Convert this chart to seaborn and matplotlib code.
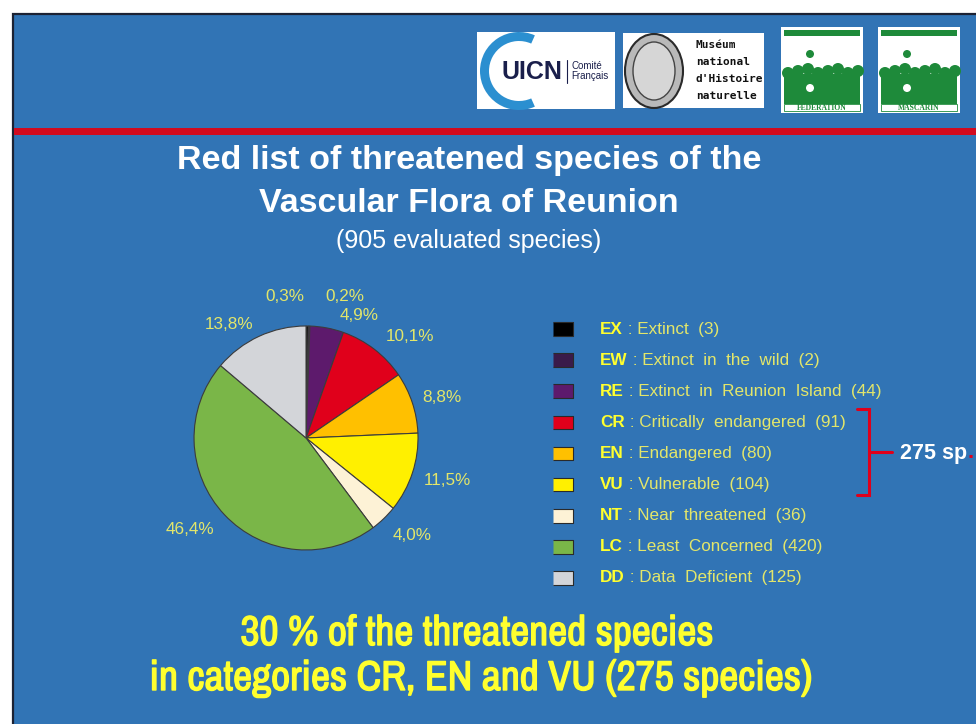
import numpy as np
import matplotlib.pyplot as plt
import matplotlib.patches as mpatches
import matplotlib.patheffects as pe
from matplotlib import font_manager
import seaborn as sns
import pandas as pd

# IUCN categories, Reunion vascular flora (905 evaluated species)
codes = ['EX', 'EW', 'RE', 'CR', 'EN', 'VU', 'NT', 'LC', 'DD']
names = ['Extinct', 'Extinct  in  the  wild', 'Extinct  in  Reunion  Island',
         'Critically  endangered', 'Endangered', 'Vulnerable',
         'Near  threatened', 'Least  Concerned', 'Data  Deficient']
counts = [3, 2, 44, 91, 80, 104, 36, 420, 125]
threatened = ['CR', 'EN', 'VU']

colors = ['#000000', '#3a1b4a', '#5d1a6c', '#e0001b', '#ffc000', '#fff000',
          '#fdf2d6', '#7ab648', '#d3d5d9']

BG = '#3174b5'
YEL = '#ffff2e'
LYEL = '#e3e66a'

sns.set_theme(style='white')
plt.rcParams['font.family'] = ['Liberation Sans', 'DejaVu Sans']

df = pd.DataFrame({'code': codes, 'name': names, 'n': counts})
total = df['n'].sum()
df['pct'] = 100 * df['n'] / total
df['label'] = df['pct'].map(lambda v: f'{v:.1f}%'.replace('.', ','))
df['row'] = np.arange(len(df))

fig = plt.figure(figsize=(9.76, 7.24), dpi=100)
fig.patch.set_facecolor('white')

# background / decoration layer in pixel coordinates
bg = fig.add_axes([0, 0, 1, 1])
bg.set_xlim(0, 976)
bg.set_ylim(724, 0)
bg.axis('off')
bg.add_patch(mpatches.Rectangle((13, 14), 980, 720, facecolor=BG, edgecolor='#1c2233', lw=1.6))
bg.add_patch(mpatches.Rectangle((14, 128), 970, 7, facecolor='#d10a1e', edgecolor='none'))

# logos (simplified)
bg.add_patch(mpatches.Rectangle((477, 32), 138, 77, facecolor='white', edgecolor='none'))
bg.add_patch(mpatches.Wedge((519, 71), 39, 66, 294, width=9, facecolor='#2b8fd0', edgecolor='none'))
bg.text(532, 72, 'UICN', fontsize=18, fontweight='bold', color='#1a1f4b', ha='center', va='center')
bg.plot([567, 567], [60, 83], color='#1a1f4b', lw=0.8)
bg.text(571, 71, 'Comité\nFrançais', fontsize=7, color='#1a1f4b', ha='left', va='center', linespacing=1.1)

bg.add_patch(mpatches.Rectangle((623, 33), 141, 75, facecolor='white', edgecolor='none'))
bg.add_patch(mpatches.Ellipse((654, 71), 58, 74, facecolor='#b9b9b9', edgecolor='#2a2a2a', lw=1.5))
bg.add_patch(mpatches.Ellipse((654, 71), 42, 58, facecolor='#d6d6d6', edgecolor='#444444', lw=1))
for i, w in enumerate(['Muséum', 'national', "d'Histoire", 'naturelle']):
    bg.text(696, 45 + 17 * i, w, fontsize=8, fontweight='bold', color='#111111',
            family='DejaVu Sans Mono', ha='left', va='center')

for x0, word in [(781, 'FÉDÉRATION'), (878, 'MASCARIN')]:
    bg.add_patch(mpatches.Rectangle((x0, 27), 82, 86, facecolor='white', edgecolor='none'))
    bg.add_patch(mpatches.Rectangle((x0 + 3, 30), 76, 6, facecolor='#1e8a3a', edgecolor='none'))
    bg.add_patch(mpatches.Rectangle((x0 + 3, 74), 76, 30, facecolor='#1e8a3a', edgecolor='none'))
    for k in range(8):
        bg.add_patch(mpatches.Circle((x0 + 7 + k * 10, 73 - (k % 3) * 2), 6, facecolor='#1e8a3a', edgecolor='none'))
    bg.add_patch(mpatches.Circle((x0 + 29, 54), 4, facecolor='#1e8a3a', edgecolor='none'))
    bg.add_patch(mpatches.Circle((x0 + 29, 88), 4, facecolor='white', edgecolor='none'))
    bg.add_patch(mpatches.Rectangle((x0 + 3, 104), 76, 7, facecolor='white', edgecolor='#1e8a3a', lw=0.6))
    bg.text(x0 + 41, 108, word, fontsize=5.5, fontweight='bold', color='#1e8a3a',
            family='Liberation Serif', ha='center', va='center')

# titles
bg.text(469, 161, 'Red list of threatened species of the', fontsize=24.5, fontweight='bold',
        color='white', ha='center', va='center')
bg.text(469, 203, 'Vascular Flora of Reunion', fontsize=24.5, fontweight='bold',
        color='white', ha='center', va='center')
bg.text(469, 241, f'({total} evaluated species)', fontsize=18, color='white',
        ha='center', va='center')

# pie
pie_ax = fig.add_axes([0.1529, 0.1785, 0.3213, 0.4331])
wedges, texts = pie_ax.pie(df['n'], colors=colors, startangle=90, counterclock=False,
                           labels=df['label'], labeldistance=1.3,
                           wedgeprops=dict(edgecolor='#3c3c3c', linewidth=0.8),
                           textprops=dict(color=LYEL, fontsize=12.3))
label_xy = {'EX': (-0.19, 1.26), 'EW': (0.35, 1.26), 'RE': (0.47, 1.09),
            'CR': (0.93, 0.91), 'EN': (1.21, 0.36), 'VU': (1.26, -0.38),
            'NT': (0.95, -0.87), 'LC': (-1.04, -0.82), 'DD': (-0.69, 1.01)}
for t, c in zip(texts, df['code']):
    t.set_position(label_xy[c])
    t.set_ha('center')
    t.set_va('center')
pie_ax.set_xlim(-1.4, 1.4)
pie_ax.set_ylim(-1.4, 1.4)
pie_ax.set_aspect('equal')
pie_ax.axis('off')

# legend
leg_ax = fig.add_axes([543 / 976, 1 - 592 / 724, 320 / 976, 277 / 724])
rect = [(-1.5, -1), (1.5, -1), (1.5, 1), (-1.5, 1)]
sns.scatterplot(data=df, x=np.zeros(len(df)), y='row', hue='code',
                palette=dict(zip(codes, colors)), marker=rect, s=215,
                edgecolor='#2a2a2a', linewidth=0.8, legend=False, ax=leg_ax)
leg_ax.set_xlim(-1, 15)
leg_ax.set_ylim(8.45, -0.45)
leg_ax.axis('off')
for _, r in df.iterrows():
    t = leg_ax.text(1.85, r['row'], r['code'], fontsize=12.3, fontweight='bold',
                    color=YEL, ha='left', va='center')
    leg_ax.annotate(f" : {r['name']}  ({r['n']})", xy=(1, 0.5), xycoords=t,
                    fontsize=12.3, color=LYEL, ha='left', va='center')

# bracket for the threatened categories
n_threat = df.loc[df['code'].isin(threatened), 'n'].sum()
bg.plot([857, 869, 869, 857], [409, 409, 495, 495], color='#e0001b', lw=2.2, solid_joinstyle='miter')
bg.plot([869, 892], [452, 452], color='#e0001b', lw=2.2)
t = bg.text(900, 453, f'{n_threat} sp', fontsize=15.5, fontweight='bold', color='white',
            ha='left', va='center')
bg.annotate('.', xy=(1, 0.5), xycoords=t, fontsize=15.5, fontweight='bold',
            color='#e0001b', ha='left', va='center')

# bottom message: narrow font (thickened with a stroke) if one is installed
narrow = [f.name for f in font_manager.fontManager.ttflist if 'Narrow' in f.name]
if narrow:
    bottom_font, bottom_size = [narrow[0], 'DejaVu Sans'], 30
    bottom_fx = [pe.withStroke(linewidth=1.0, foreground=YEL)]
else:
    bottom_font, bottom_size = ['Liberation Sans', 'DejaVu Sans'], 24.7
    bottom_fx = []
share = 100 * n_threat / total
bg.text(477, 633, f'{share:.0f} % of the threatened species', fontsize=bottom_size,
        fontweight='bold', color=YEL, ha='center', va='center', family=bottom_font,
        path_effects=bottom_fx)
bg.text(481, 678, f'in categories CR, EN and VU ({n_threat} species)', fontsize=bottom_size,
        fontweight='bold', color=YEL, ha='center', va='center', family=bottom_font,
        path_effects=bottom_fx)

fig.savefig('out.png', dpi=100)
